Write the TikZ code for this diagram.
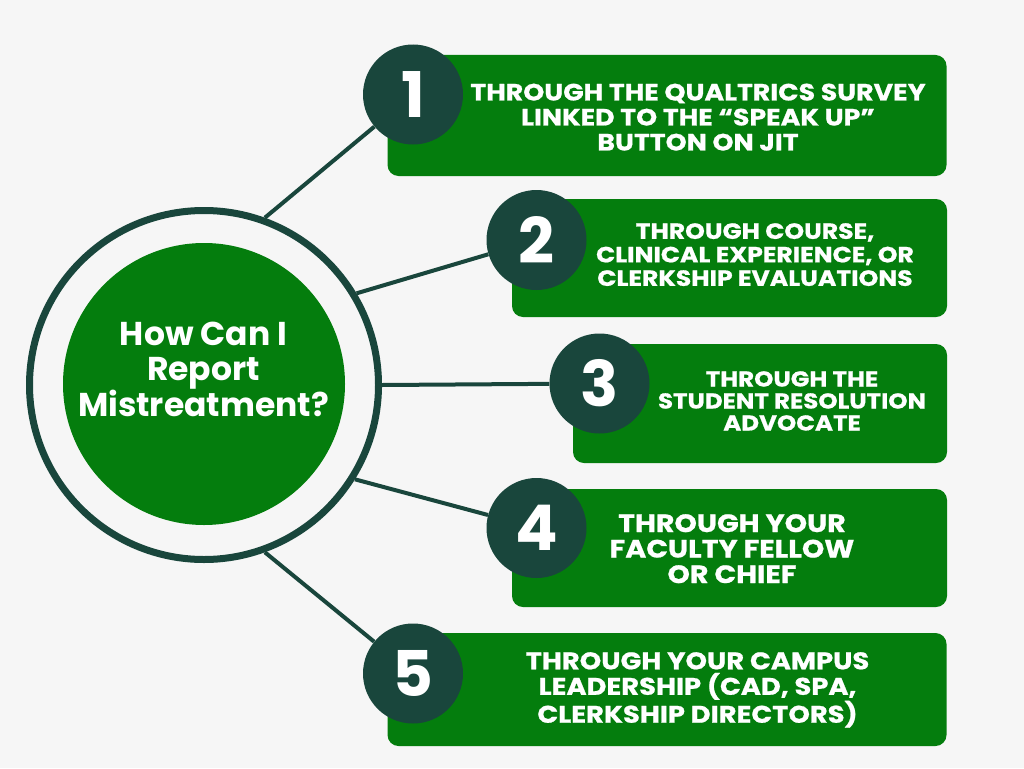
\documentclass[tikz,border=0pt]{standalone}
\usepackage{fontspec}
\setmainfont{Poppins}
\newfontfamily\stepfont{Poppins}[FakeStretch=1.14,FakeBold=0.8]
\definecolor{boxgreen}{HTML}{047D0D}
\definecolor{darkgreen}{HTML}{19463C}
\definecolor{paper}{HTML}{F6F6F6}
\tikzset{
  numdisc/.style={circle,fill=darkgreen,text=white,inner sep=0pt,minimum size=100pt,font=\bfseries\fontsize{63}{63}\selectfont},
  stepbox/.style={rectangle,fill=boxgreen,rounded corners=11pt,inner sep=0pt},
  steptext/.style={text=white,align=center,inner sep=0pt,anchor=north},
  link/.style={-,line width=4pt,draw=darkgreen}
}

\begin{document}
\begin{tikzpicture}[x=1pt,y=-1pt]
\fill[paper] (0,0) rectangle (1024,768);
\useasboundingbox (0,0) rectangle (1024,768);
% centre
\node (ring) [circle,draw=darkgreen,line width=7pt,minimum size=349pt,inner sep=0pt] at (204,385) {};
\node (hub) [circle,fill=boxgreen,minimum size=282pt,inner sep=0pt] at (204,384) {};
\node (title) [steptext,font=\bfseries\fontsize{33}{35}\selectfont] at (203.5,322) {How Can I\\Report\\Mistreatment?};
%
\node (b1) [stepbox,minimum width=559pt,minimum height=121pt] at (667,115.5) {};
\node (b2) [stepbox,minimum width=435pt,minimum height=118pt] at (729.5,258) {};
\node (b3) [stepbox,minimum width=374pt,minimum height=119pt] at (760,403.5) {};
\node (b4) [stepbox,minimum width=435pt,minimum height=118pt] at (729.5,548) {};
\node (b5) [stepbox,minimum width=559pt,minimum height=113pt] at (667,689.5) {};
%
\node (t1) [steptext,font=\stepfont\bfseries\fontsize{23.5}{25}\selectfont] at (698,83.5) {THROUGH THE QUALTRICS SURVEY\\LINKED TO THE “SPEAK UP”\\BUTTON ON JIT};
\node (t2) [steptext,font=\stepfont\bfseries\fontsize{22}{23.5}\selectfont] at (755,223) {THROUGH COURSE,\\CLINICAL EXPERIENCE, OR\\CLERKSHIP EVALUATIONS};
\node (t3) [steptext,font=\stepfont\bfseries\fontsize{21.5}{22}\selectfont] at (792,371) {THROUGH THE\\STUDENT RESOLUTION\\ADVOCATE};
\node (t4) [steptext,font=\stepfont\bfseries\fontsize{25}{25.5}\selectfont] at (732,514) {THROUGH YOUR\\FACULTY FELLOW\\OR CHIEF};
\node (t5) [steptext,font=\stepfont\bfseries\fontsize{24}{25.5}\selectfont] at (697.5,652) {THROUGH YOUR CAMPUS\\LEADERSHIP (CAD, SPA,\\CLERKSHIP DIRECTORS)};
%
\node (n1) [numdisc] at (413,94.5) {1};
\node (n2) [numdisc] at (536.5,240) {2};
\node (n3) [numdisc] at (599.5,383.5) {3};
\node (n4) [numdisc] at (536.5,528) {4};
\node (n5) [numdisc] at (413,673.5) {5};
%
\path[link] (ring.70) edge (n1);
\path[link] (ring.31) edge (n2);
\path[link] (ring.0) edge (n3);
\path[link] (ring.-32) edge (n4);
\path[link] (ring.-70) edge (n5);
\end{tikzpicture}
\end{document}
